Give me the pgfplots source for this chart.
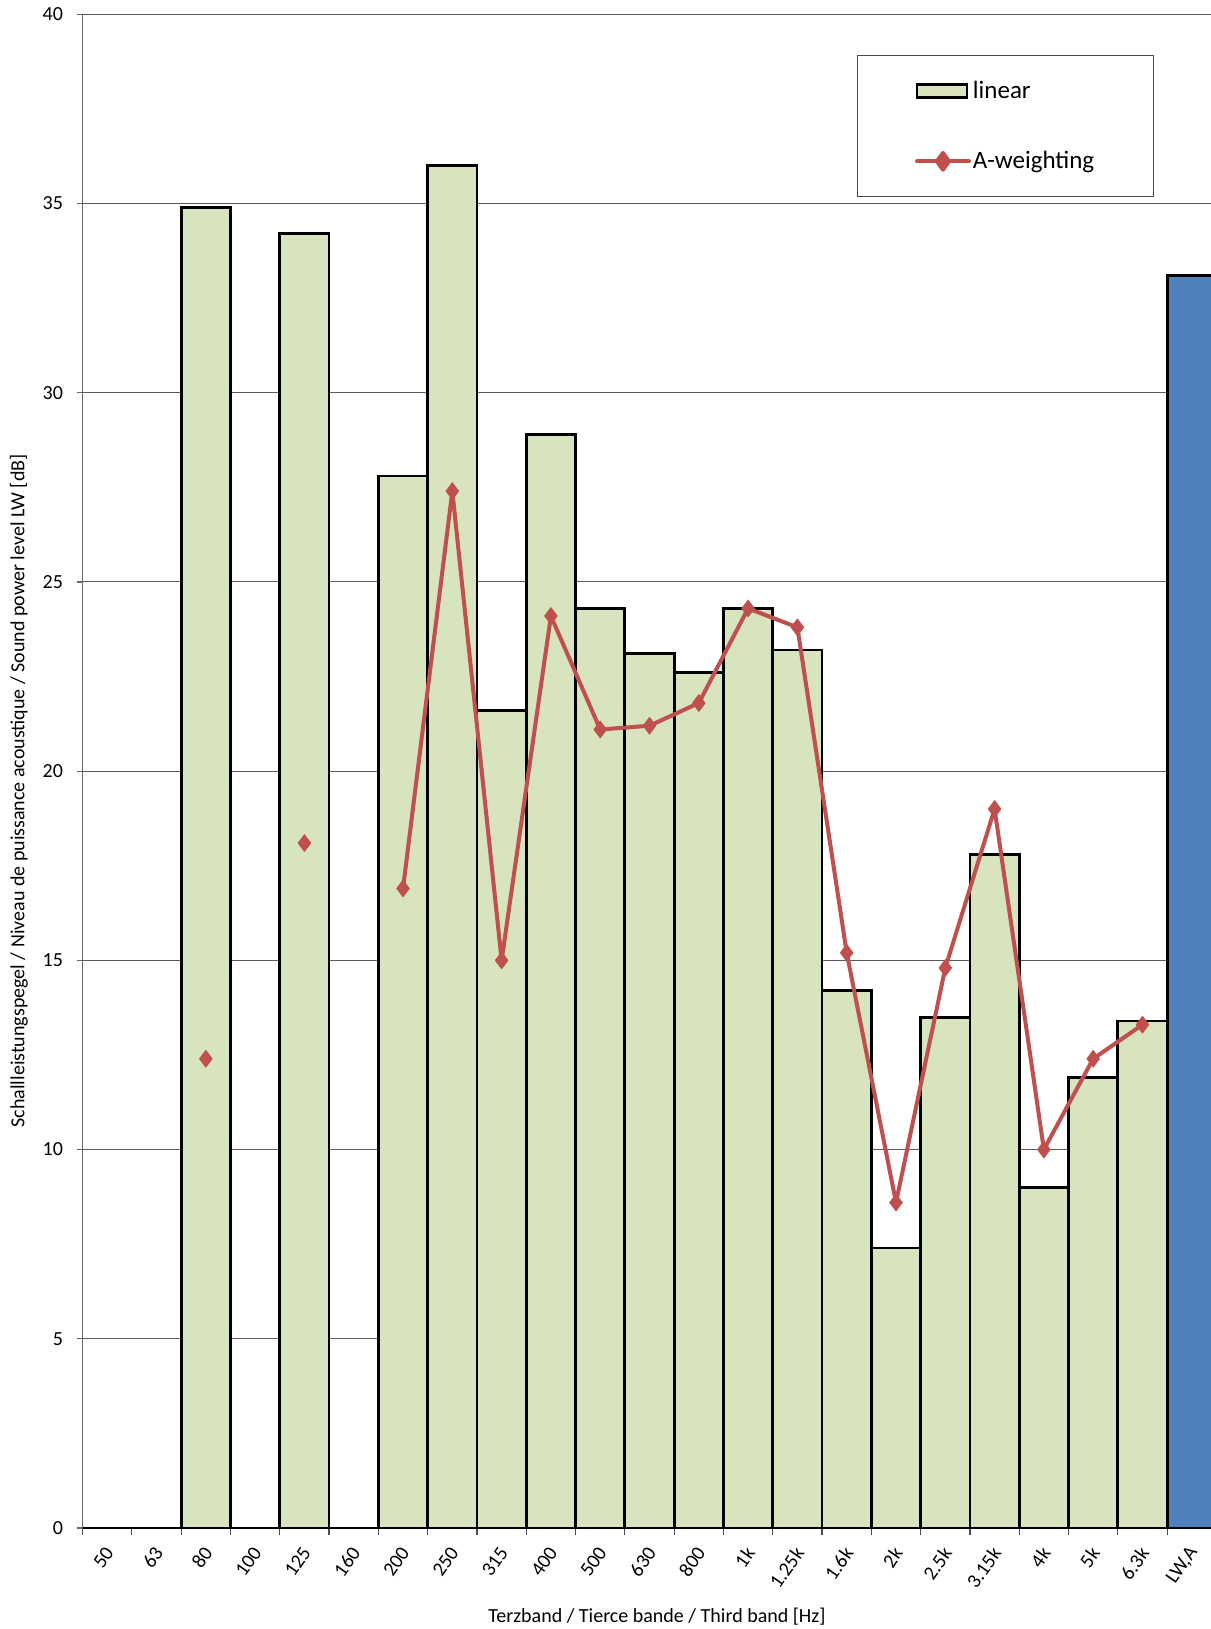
\documentclass[border=0pt]{standalone}
\usepackage{fontspec}
\setmainfont{Carlito}
\usepackage{pgfplots}
\pgfplotsset{compat=1.18}
\definecolor{barGreen}{HTML}{D7E4BD}
\definecolor{barBlue}{HTML}{4F81BD}
\definecolor{lineRed}{HTML}{C0504D}
\begin{document}
\begin{tikzpicture}
\begin{axis}[
  at={(0pt,0pt)}, anchor=south west,
  scale only axis, width=564.2pt, height=756.85pt,
  xmin=0, xmax=22.89, ymin=0, ymax=40,
  axis lines*=left,
  x axis line style={black, line width=1pt},
  y axis line style={black!60, line width=0.7pt},
  tick align=outside,
  ytick={0,5,...,40},
  ymajorgrids,
  grid style={black!65, line width=0.5pt},
  ytick style={black!60, line width=0.6pt},
  major tick length=2.8pt,
  xtick={0.5,1.5,...,22.5},
  xticklabels={50,63,80,100,125,160,200,250,315,400,500,630,800,1k,1.25k,1.6k,2k,2.5k,3.15k,4k,5k,6.3k,{LW,A}},
  major x tick style={draw=none},
  minor xtick={0,1,...,22},
  minor x tick style={black!70, line width=0.6pt},
  minor tick length=3.5pt,
  xticklabel style={yshift=-5pt, xshift=3pt, rotate=55, anchor=east, font=\fontsize{10}{12}\selectfont},
  yticklabel style={xshift=-3.5pt, font=\fontsize{10}{12}\selectfont},
  /pgf/number format/assume math mode=true,
  xlabel={Terzband / Tierce bande / Third band [Hz]},
  ylabel={Schallleistungspegel / Niveau de puissance acoustique / Sound power level LW [dB]},
  xlabel style={at={(axis description cs:0.509,-0.0588)}, anchor=center, font=\fontsize{10}{12}\selectfont},
  ylabel style={at={(axis description cs:-0.0564,0.487)}, anchor=center, font=\fontsize{10}{12}\selectfont},
  unbounded coords=jump,
  legend cell align=left,
  legend style={at={(axis description cs:0.6863,0.9731)}, anchor=north west,
    draw=black!70, line width=0.6pt, minimum width=148pt, minimum height=70.5pt,
    font=\fontsize{12.5}{15}\selectfont, row sep=21pt,
    nodes={minimum width=0pt, minimum height=0pt, inner xsep=1pt}},
]
\addplot[ybar, bar width=1, bar shift=0pt, fill=barGreen, draw=black, line width=1.4pt,
  legend image code/.code={\draw[fill=barGreen, draw=black, line width=1.2pt] (0pt,-3.2pt) rectangle (25pt,3.2pt);}]
  coordinates {
  (2.5,34.9) (4.5,34.2) (6.5,27.8) (7.5,36.0) (8.5,21.6) (9.5,28.9) (10.5,24.3)
  (11.5,23.1) (12.5,22.6) (13.5,24.3) (14.5,23.2) (15.5,14.2) (16.5,7.4)
  (17.5,13.5) (18.5,17.8) (19.5,9.0) (20.5,11.9) (21.5,13.4)};
\addlegendentry{linear}
\addplot[ybar, bar width=1, bar shift=0pt, fill=barBlue, draw=black, line width=1.4pt, forget plot]
  coordinates {(22.5,33.1)};
\addplot[lineRed, line width=2pt, line join=round, line cap=round, mark=diamond*, mark size=4.2pt,
  mark options={solid, fill=lineRed, draw=lineRed, line width=0.4pt},
  legend image code/.code={
    \draw[lineRed, line width=2pt, line cap=round] (0pt,0pt) -- (26pt,0pt);
    \fill[lineRed] (10pt,0pt) -- (13pt,4.2pt) -- (16pt,0pt) -- (13pt,-4.2pt) -- cycle;}]
  coordinates {
  (2.5,12.4) (3.5,nan) (4.5,18.1) (5.5,nan) (6.5,16.9) (7.5,27.4) (8.5,15.0)
  (9.5,24.1) (10.5,21.1) (11.5,21.2) (12.5,21.8) (13.5,24.3) (14.5,23.8)
  (15.5,15.2) (16.5,8.6) (17.5,14.8) (18.5,19.0) (19.5,10.0) (20.5,12.4) (21.5,13.3)};
\addlegendentry{A-weighting}
\end{axis}
\pgfresetboundingbox
\path[use as bounding box] (-41.3pt,-50.5pt) rectangle (564.2pt,764pt);
\end{tikzpicture}
\end{document}
